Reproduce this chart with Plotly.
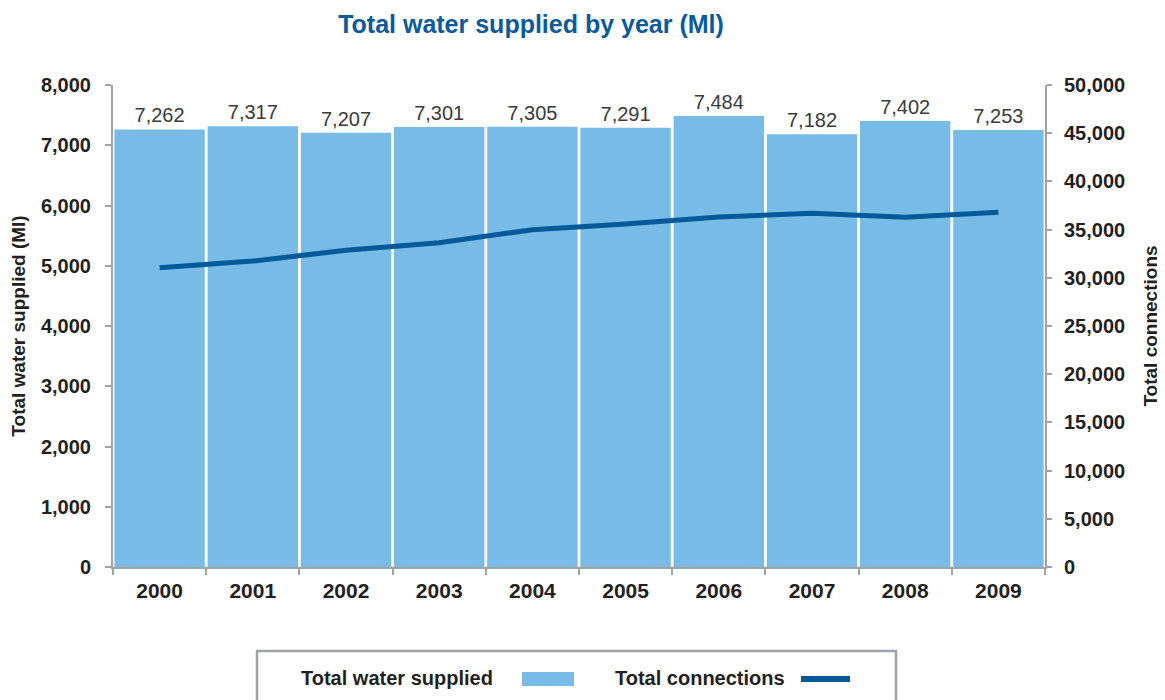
import plotly.graph_objects as go

years = ["2000", "2001", "2002", "2003", "2004", "2005", "2006", "2007", "2008", "2009"]
water_supplied = [7262, 7317, 7207, 7301, 7305, 7291, 7484, 7182, 7402, 7253]
connections = [31050, 31740, 32850, 33640, 34990, 35580, 36310, 36690, 36270, 36790]
left_ticks = [0, 1000, 2000, 3000, 4000, 5000, 6000, 7000, 8000]
right_ticks = [0, 5000, 10000, 15000, 20000, 25000, 30000, 35000, 40000, 45000, 50000]
legend_labels = ["Total water supplied", "Total connections"]

FONT = "Liberation Sans, Arial, Helvetica, sans-serif"
BAR_COLOR = "#78BBE6"
LINE_COLOR = "#005A9A"
AXIS_COLOR = "#A0A3A6"
TEXT_COLOR = "#231F20"

# the page body adds an 8px offset; size the figure so it fills the 1165x700 window
OFF = 8
W, H = 1165 - OFF, 700 - OFF
L, R, T, B = 113 - OFF, 120, 85 - OFF, 133
PW, PH = W - L - R, H - T - B


def px(xp):
    return (xp - OFF - L) / PW


def py(yp):
    return (H - B - (yp - OFF)) / PH


fig = go.Figure()
fig.add_trace(go.Bar(
    x=years, y=water_supplied, name=legend_labels[0],
    marker=dict(color=BAR_COLOR, line=dict(width=0)),
    text=[f"{v:,}" for v in water_supplied], textposition="outside",
    textfont=dict(family=FONT, size=20, color="#3A3A3A"),
    cliponaxis=False, showlegend=False,
))
fig.add_trace(go.Scatter(
    x=years, y=connections, name=legend_labels[1], yaxis="y2",
    mode="lines", line=dict(color=LINE_COLOR, width=5), showlegend=False,
))

tick_font = dict(family=FONT, size=20, color=TEXT_COLOR, weight="bold")

fig.update_layout(
    width=W, height=H,
    margin=dict(l=L, r=R, t=T, b=B),
    paper_bgcolor="white", plot_bgcolor="white",
    font=dict(family=FONT, color=TEXT_COLOR),
    title=dict(text="<b>Total water supplied by year (Ml)</b>", x=(531 - OFF) / W, xanchor="center",
               y=1 - (24 - OFF) / H, yanchor="middle",
               font=dict(family=FONT, size=25, color="#0A5A9C")),
    bargap=0.03,
    showlegend=False,
    xaxis=dict(showline=True, linecolor=AXIS_COLOR, linewidth=2,
               ticks="outside", tickson="boundaries", ticklen=6, tickcolor=AXIS_COLOR, tickwidth=2,
               tickfont=dict(family=FONT, size=21, color=TEXT_COLOR, weight="bold"),
               ticklabelstandoff=4,
               showgrid=False, zeroline=False, automargin=False),
    yaxis=dict(range=[0, 8000], tickvals=left_ticks, tickformat=",",
               showline=True, linecolor=AXIS_COLOR, linewidth=2,
               ticks="outside", ticklen=6, tickcolor=AXIS_COLOR, tickwidth=2,
               showgrid=False, zeroline=False, automargin=False,
               tickfont=tick_font, ticklabelstandoff=10,
               title=dict(text="<b>Total water supplied (Ml)</b>", standoff=10,
                          font=dict(family=FONT, size=19, color=TEXT_COLOR))),
    yaxis2=dict(range=[0, 50000], tickvals=right_ticks, tickformat=",",
                overlaying="y", side="right",
                showline=True, linecolor=AXIS_COLOR, linewidth=2,
                ticks="outside", ticklen=5, tickcolor=AXIS_COLOR, tickwidth=2,
                showgrid=False, zeroline=False, automargin=False,
                tickfont=tick_font, ticklabelstandoff=8,
                title=dict(text="<b>Total connections</b>", standoff=20,
                           font=dict(family=FONT, size=19, color=TEXT_COLOR))),
)

# hand-made legend (text first, then the swatch, as in the original)
fig.add_shape(type="rect", xref="paper", yref="paper",
              x0=px(257), x1=px(896), y0=py(651), y1=py(730),
              line=dict(color=AXIS_COLOR, width=2.5), fillcolor="rgba(0,0,0,0)")
fig.add_annotation(xref="paper", yref="paper", x=px(299), y=py(678),
                   xanchor="left", yanchor="middle", showarrow=False,
                   text="<b>" + legend_labels[0] + "</b>",
                   font=dict(family=FONT, size=20, color=TEXT_COLOR))
fig.add_shape(type="rect", xref="paper", yref="paper",
              x0=px(522), x1=px(574), y0=py(672), y1=py(686),
              line=dict(width=0), fillcolor=BAR_COLOR)
fig.add_annotation(xref="paper", yref="paper", x=px(613), y=py(678),
                   xanchor="left", yanchor="middle", showarrow=False,
                   text="<b>" + legend_labels[1] + "</b>",
                   font=dict(family=FONT, size=20, color=TEXT_COLOR))
fig.add_shape(type="line", xref="paper", yref="paper",
              x0=px(801), x1=px(850), y0=py(679), y1=py(679),
              line=dict(color=LINE_COLOR, width=6))

fig.write_html("out.html")
